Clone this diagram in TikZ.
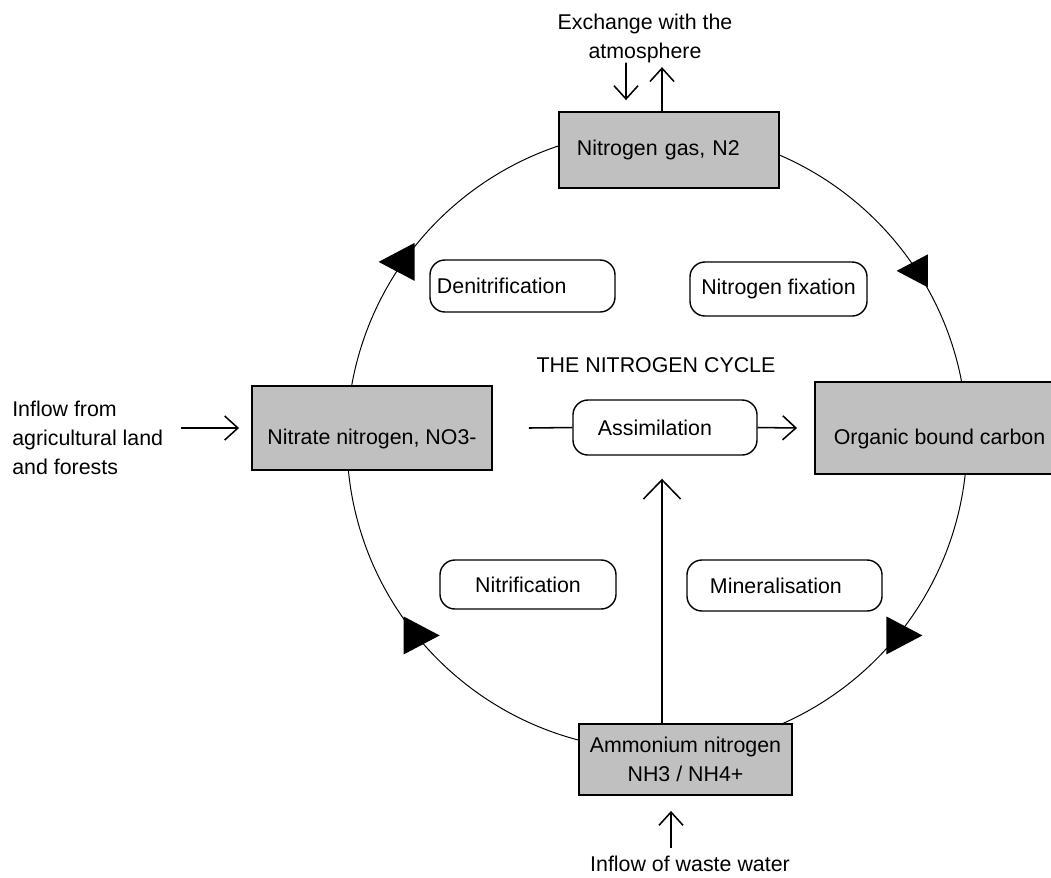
\documentclass[tikz,border=0pt]{standalone}
\usepackage{fontspec}
\setmainfont{Liberation Sans}
\usetikzlibrary{arrows.meta}
\definecolor{poolgray}{HTML}{C0C0C0}

\begin{document}
\begin{tikzpicture}[x=0.025cm, y=-0.025cm,
	font=\fontsize{15.2pt}{20.6pt}\selectfont,
	pool node/.style={draw, line width=1.3pt, fill=poolgray},
	low text/.style={text height=0.8cm, text depth=0cm},
	process node/.style={draw, line width=1pt, rounded corners=0.375cm},
	label node/.style={inner sep=0pt, align=left},
	flow arrow/.style={line width=1.1pt, -{Straight Barb[length=0.33cm, width=0.6cm]}},
	big arrow/.style={line width=1.1pt, -{Straight Barb[length=0.48cm, width=0.93cm]}},
	cycle head/.pic={\fill (-0.3cm,-0.475cm) -- (0.6cm,0cm) -- (-0.3cm,0.475cm) -- cycle;}]
	
	\useasboundingbox (0,0) rectangle (1051,877);
	
	\node[circle, draw, line width=0.7pt, minimum size=15.5cm, inner sep=0pt] (ring) at (657,440) {};
	
	\node[pool node, text width=4.6cm, inner xsep=0.45cm, minimum height=1.9cm, align=left] (gas) at (669,150) {Nitrogen gas, N2};
	\node[pool node, low text, minimum width=6cm, minimum height=2.1cm] (nitrate) at (372,428) {Nitrate nitrogen, NO3-};
	\node[pool node, low text, minimum width=6.225cm, minimum height=2.3cm] (organic) at (939.5,428) {Organic bound carbon};
	\node[pool node, minimum width=5.325cm, minimum height=1.775cm, align=center] (ammonium) at (685.5,759.5) {Ammonium nitrogen\\NH3 / NH4+};
	
	\node[process node, text width=4.275cm, inner xsep=0.175cm, minimum height=1.3cm, align=left] (denit) at (522.5,286) {Denitrification};
	\node[process node, minimum width=4.425cm, minimum height=1.35cm] (fixation) at (778.5,289) {Nitrogen fixation};
	\node[process node, minimum width=4.4cm, minimum height=1.225cm] (nitrif) at (528,584.5) {Nitrification};
	\node[process node, text width=3.725cm, inner xsep=0.575cm, minimum height=1.275cm, align=left] (mineral) at (784.5,585.5) {Mineralisation};
	\node[process node, text width=3.35cm, inner xsep=0.625cm, minimum height=1.375cm, align=left] (assim) at (665,427.5) {Assimilation};
	
	\node[label node, align=center] (title) at (656,365) {THE NITROGEN CYCLE};
	\node[label node, align=center] (atm) at (645,38) {Exchange with the\\atmosphere};
	\node[label node, anchor=west] (agri) at (12,438) {Inflow from\\agricultural land\\and forests};
	\node[label node] (waste) at (690,864) {Inflow of waste water};
	
	\pic[rotate=180] at (ring.145.6) {cycle head};
	\pic[rotate=180, scale=0.87] at (ring.33.5) {cycle head};
	\pic at (ring.321.7) {cycle head};
	\pic at (ring.219) {cycle head};
	
	\draw[flow arrow] ([xshift=-0.475cm]atm.south) -- ([xshift=-1.075cm, yshift=0.275cm]gas.north);
	\draw[flow arrow] ([xshift=-0.175cm]gas.north) -- ([xshift=0.425cm, yshift=-0.11cm]atm.south);
	\draw[flow arrow] ([xshift=-1.75cm]nitrate.west) -- ([xshift=-0.3cm]nitrate.west);
	\draw[line width=1.1pt] ([xshift=0.9cm]nitrate.east) -- (assim.west);
	\draw[flow arrow] (assim.east) -- ([xshift=-0.425cm]organic.west);
	\draw[big arrow] ([xshift=-0.5875cm]ammonium.north) -- ([xshift=-0.075cm, yshift=-0.575cm]assim.south);
	\draw[flow arrow] ([xshift=-0.475cm, yshift=0.2cm]waste.north) -- ([xshift=-0.3625cm, yshift=-0.375cm]ammonium.south);
\end{tikzpicture}
\end{document}
